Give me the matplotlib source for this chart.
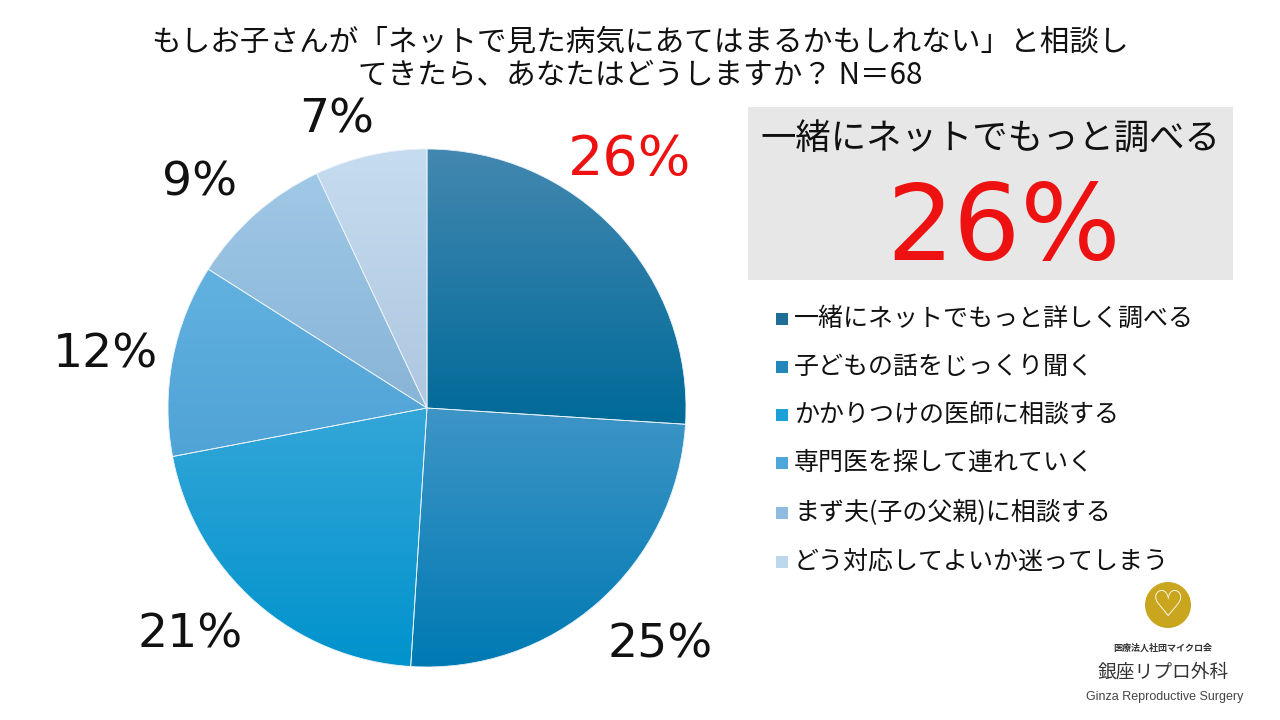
import matplotlib
matplotlib.use('Agg')
import matplotlib.pyplot as plt
import matplotlib.colors as mcolors
from matplotlib.patches import Rectangle, Circle
import numpy as np

plt.rcParams['font.family'] = ['Noto Sans CJK JP', 'DejaVu Sans']

# data
title = ('もしお子さんが「ネットで見た病気にあてはまるかもしれない」と相談し\n'
         'てきたら、あなたはどうしますか？ N＝68')
categories = [
    '一緒にネットでもっと詳しく調べる',
    '子どもの話をじっくり聞く',
    'かかりつけの医師に相談する',
    '専門医を探して連れていく',
    'まず夫(子の父親)に相談する',
    'どう対応してよいか迷ってしまう',
]
values = [26, 25, 21, 12, 9, 7]
pct_labels = ['26%', '25%', '21%', '12%', '9%', '7%']
highlight_title = '一緒にネットでもっと調べる'
highlight_value = '26%'

# (top, bottom) gradient colours per slice, and legend square colours
grad_top = ['#4388B0', '#3E95C6', '#34A6D8', '#62B1E0', '#A0C8E7', '#C6DCF0']
grad_bot = ['#006A99', '#007AB3', '#0093CC', '#4FA3D6', '#88B4D6', '#AEC7DF']
legend_colors = ['#1F6E96', '#2287BA', '#1BA0D8', '#4FA6DA', '#8DBCE0', '#BDD7EE']

W, H = 1280, 720


def Y(y):
    return H - y


fig = plt.figure(figsize=(12.8, 7.2), dpi=100)
ax = fig.add_axes([0, 0, 1, 1])

# title
fig.text(0.5, 1 - 59 / H, title, ha='center', va='center', fontsize=21.3,
         linespacing=1.12, color='#111111')

# pie
cx, cy, r = 427, 408, 259
wedges, _ = ax.pie(values, startangle=90, counterclock=False,
                   center=(cx, Y(cy)), radius=r, frame=True,
                   wedgeprops=dict(edgecolor='#EAF2F8', linewidth=0.6))
ax.set_xlim(0, W)
ax.set_ylim(0, H)
ax.set_aspect('equal')
ax.axis('off')

for w, top, bot in zip(wedges, grad_top, grad_bot):
    w.set_facecolor('none')
    bb = w.get_path().get_extents(w.get_patch_transform())
    cmap = mcolors.LinearSegmentedColormap.from_list('g', [bot, top])
    grad = np.linspace(0, 1, 256).reshape(-1, 1)
    im = ax.imshow(grad, cmap=cmap, origin='lower', aspect='auto',
                   extent=[bb.x0, bb.x1, bb.y0, bb.y1], zorder=1)
    im.set_clip_path(w)
    w.set_zorder(2)

# percentage labels
num_font = ['DejaVu Sans']
label_pos = [(630, 160), (660, 645), (190, 635), (105, 355), (200, 183), (337, 120)]
for i, (lab, (x, y)) in enumerate(zip(pct_labels, label_pos)):
    if i == 0:
        ax.text(x, Y(y), lab, ha='center', va='center', fontsize=40,
                color='#EE1111', family=num_font)
    else:
        ax.text(x, Y(y), lab, ha='center', va='center', fontsize=34,
                color='#111111', family=num_font)

# highlight box
ax.add_patch(Rectangle((748, Y(280)), 485, 173, facecolor='#E7E7E7',
                       edgecolor='none', zorder=0))
ax.text(990, Y(140), highlight_title, ha='center', va='center', fontsize=25.5,
        color='#111111')
ax.text(1004, Y(231), highlight_value, ha='center', va='center', fontsize=76,
        color='#EE1111', family=num_font)

# legend
legend_y = [319, 367, 415, 463, 513, 562]
for cat, col, y in zip(categories, legend_colors, legend_y):
    ax.add_patch(Rectangle((776, Y(y) - 6), 12, 12, facecolor=col,
                           edgecolor='none'))
    ax.text(794, Y(y), cat, ha='left', va='center', fontsize=18,
            color='#111111')

# logo
ax.add_patch(Circle((1168, Y(605)), 23, facecolor='#C9A61E', edgecolor='none'))
ax.text(1168, Y(606), '♡', ha='center', va='center', fontsize=26,
        color='white', family=['DejaVu Sans'])
ax.text(1163, Y(648), '医療法人社団マイクロ会', ha='center', va='center',
        fontsize=6.5, color='#333333', fontweight='bold')
ax.text(1163, Y(672), '銀座リプロ外科', ha='center', va='center',
        fontsize=13.5, color='#333333')
ax.text(1165, Y(697), 'Ginza Reproductive Surgery', ha='center', va='center',
        fontsize=9, color='#444444', family=['Liberation Sans'])

fig.savefig('out.png', dpi=100)
